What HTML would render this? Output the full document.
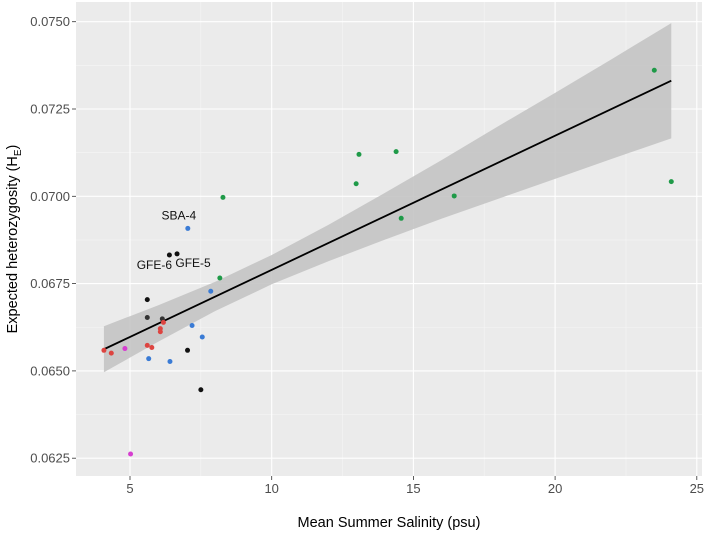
<!DOCTYPE html>
<html><head><meta charset="utf-8"><style>
body{margin:0;background:#fff;}
svg{display:block;font-family:"Liberation Sans",sans-serif;}
</style></head><body>
<svg id="chart" width="709" height="538"></svg>
<script>
const xVals=[23.5,24.1,13.08,14.39,12.98,16.44,14.57,8.28,8.17,7.04,6.39,6.66,7.85,5.61,5.61,6.14,6.18,6.07,6.07,7.19,7.55,4.08,4.34,4.82,5.61,5.77,7.03,5.66,6.41,7.5,5.02];
const yVals=[0.07361,0.07042,0.0712,0.07128,0.07036,0.07001,0.06937,0.06997,0.06766,0.06908,0.06832,0.06835,0.06728,0.06704,0.06653,0.06649,0.06639,0.06621,0.06612,0.0663,0.06597,0.06559,0.06551,0.06564,0.06573,0.06567,0.06559,0.06535,0.06527,0.06446,0.06262];
const groups=["g","g","g","g","g","g","g","g","g","b","k","k","b","k","d","d","r","r","r","b","b","r","r","m","r","r","k","b","b","k","m"];
const bandX=[4.08,6,8,10,12,14,16,18,20,22,24.1];
const bandLo=[0.06496,0.06584,0.06671,0.06748,0.06814,0.06876,0.06936,0.06993,0.0705,0.07107,0.07166];
const bandHi=[0.06628,0.06688,0.06755,0.06832,0.06918,0.0701,0.07104,0.07201,0.07296,0.07393,0.07496];
const fitX=[4.08,24.1];
const fitY=[0.06562,0.07331];
const xTicks=[5,10,15,20,25];
const yTicks=[0.0625,0.065,0.0675,0.07,0.0725,0.075];
const yTickLabels=["0.0625","0.0650","0.0675","0.0700","0.0725","0.0750"];
const labels=[{t:"SBA-4",x:7.04,y:0.06908,dx:-9,dy:-9},{t:"GFE-6",x:6.39,y:0.06832,dx:-15,dy:14},{t:"GFE-5",x:6.66,y:0.06835,dx:16,dy:13}];

const L=76,R=702,T=2,B=476;
const sx=v=>130+(v-5)*(141.7/5);
const sy=v=>21.7+(0.075-v)/0.0025*87.3;
const colors={g:"#1f9a48",b:"#3a7bd5",k:"#111",d:"#333",r:"#dd4440",m:"#d63fd0"};
const NS="http://www.w3.org/2000/svg";
const svg=document.getElementById("chart");
function mk(tag,attrs,parent){const e=document.createElementNS(NS,tag);for(const k in attrs)e.setAttribute(k,attrs[k]);(parent||svg).appendChild(e);return e;}

const panel=mk("rect",{x:L,y:T,width:R-L,height:B-T,fill:"#ebebeb"});


for(let i=0;i<xTicks.length+1;i++){const v=xTicks[0]-2.5+i*5;const x=sx(v);if(x>L&&x<R){const g=mk("line",{x1:x,x2:x,y1:T,y2:B,stroke:"#f5f5f5","stroke-width":0.6});}}
for(let i=0;i<yTicks.length+1;i++){const v=yTicks[0]-0.00125+i*0.0025;const y=sy(v);if(y>T&&y<B){const g=mk("line",{x1:L,x2:R,y1:y,y2:y,stroke:"#f5f5f5","stroke-width":0.6});}}
xTicks.forEach(v=>{const x=sx(v);
const g=mk("line",{x1:x,x2:x,y1:T,y2:B,stroke:"#fff","stroke-width":1.1});
const t=mk("line",{x1:x,x2:x,y1:B,y2:B+4,stroke:"#333","stroke-width":0.8});
const l=mk("text",{x:x,y:B+17,"font-size":13,fill:"#4d4d4d","text-anchor":"middle"});l.textContent=v;});
yTicks.forEach((v,i)=>{const y=sy(v);
const g=mk("line",{x1:L,x2:R,y1:y,y2:y,stroke:"#fff","stroke-width":1.1});
const t=mk("line",{x1:L-4,x2:L,y1:y,y2:y,stroke:"#333","stroke-width":0.8});
const l=mk("text",{x:L-6,y:y+4.5,"font-size":13,fill:"#4d4d4d","text-anchor":"end"});l.textContent=yTickLabels[i];});

let d="";bandX.forEach((x,i)=>{d+=(i?"L":"M")+sx(x)+","+sy(bandHi[i]);});
for(let i=bandX.length-1;i>=0;i--)d+="L"+sx(bandX[i])+","+sy(bandLo[i]);
const band=mk("path",{d:d+"Z",fill:"#c4c4c4","fill-opacity":0.9});


const fit=mk("line",{x1:sx(fitX[0]),y1:sy(fitY[0]),x2:sx(fitX[1]),y2:sy(fitY[1]),stroke:"#000","stroke-width":1.8});



xVals.forEach((v,i)=>{const c=mk("circle",{cx:sx(v),cy:sy(yVals[i]),r:2.5,fill:colors[groups[i]]});

});
labels.forEach(o=>{const t=mk("text",{x:sx(o.x)+o.dx,y:sy(o.y)+o.dy,"font-size":12,fill:"#111","text-anchor":"middle"});t.textContent=o.t;

});

const xt=mk("text",{x:(L+R)/2,y:527,"font-size":14.5,fill:"#000","text-anchor":"middle"});xt.textContent="Mean Summer Salinity (psu)";


const yt=mk("text",{x:0,y:0,"font-size":14.5,fill:"#000","text-anchor":"middle",transform:"translate(17,239) rotate(-90)"});
yt.innerHTML='Expected heterozygosity (H<tspan font-size="10" dy="4">E</tspan><tspan dy="-4">)</tspan>';


</script>
</body></html>
